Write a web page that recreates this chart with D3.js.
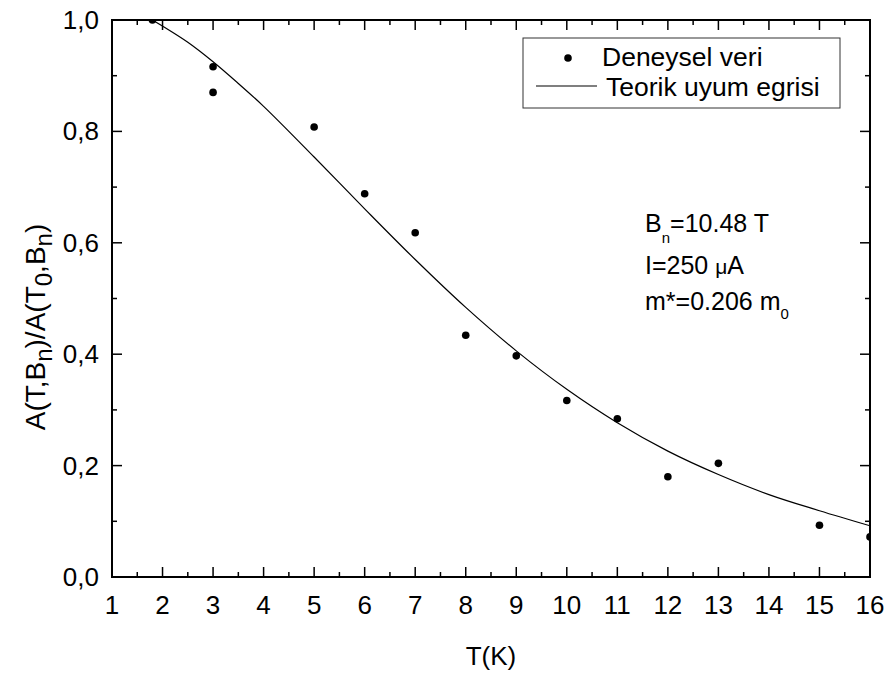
<!DOCTYPE html>
<html>
<head>
<meta charset="utf-8">
<script src="https://cdn.jsdelivr.net/npm/d3@7"></script>
<style>
  body { margin: 0; background: #fff; }
  svg { font-family: "Liberation Sans", Arial, sans-serif; }
</style>
</head>
<body>
<svg id="chart" width="892" height="678"></svg>
<script>
// measured points (Deneysel veri)
var tempData = [1.8, 3, 3, 5, 6, 7, 8, 9, 10, 11, 12, 13, 15, 16]
var ampData = [1.0, 0.916, 0.870, 0.808, 0.688, 0.618, 0.434, 0.397, 0.317, 0.284, 0.180, 0.204, 0.093, 0.072]

// fitted curve (Teorik uyum egrisi)
var tempFit = [1.8, 2.5, 3, 3.5, 4, 5, 6, 7, 8, 9, 10, 11, 12, 13, 14, 15, 16]
var ampFit = [1.0, 0.960, 0.925, 0.886, 0.845, 0.754, 0.661, 0.570, 0.484, 0.406, 0.337, 0.277, 0.226, 0.184, 0.148, 0.119, 0.092]

var xTicks = [1, 2, 3, 4, 5, 6, 7, 8, 9, 10, 11, 12, 13, 14, 15, 16]
var yTicks = [0, 0.2, 0.4, 0.6, 0.8, 1.0]

var margin = {top: 20, right: 22, bottom: 101, left: 112}
var width = 892 - margin.left - margin.right
var height = 678 - margin.top - margin.bottom

var svg = d3.select("#chart")
var g = svg.append("g").attr("transform", "translate(" + margin.left + "," + margin.top + ")")

var x = d3.scaleLinear().domain([1, 16]).range([0, width])
var y = d3.scaleLinear().domain([0, 1]).range([height, 0])

var comma = d3.formatLocale({decimal: ",", thousands: ".", grouping: [3], currency: ["", ""]}).format(".1f")

g.append("clipPath").attr("id", "plotclip")
  .append("rect").attr("width", width).attr("height", height)

// minor ticks
var xMinor = d3.range(1.5, 16, 1)
var yMinor = d3.range(0.1, 1, 0.2)

function tickSet(sel, vals, len, horiz, flip) {
  sel.selectAll(null).data(vals).enter().append("line")
    .attr("x1", function(d) { return horiz ? x(d) : (flip ? width : 0) })
    .attr("x2", function(d) { return horiz ? x(d) : (flip ? width - len : len) })
    .attr("y1", function(d) { return horiz ? (flip ? 0 : height) : y(d) })
    .attr("y2", function(d) { return horiz ? (flip ? len : height - len) : y(d) })
    .attr("stroke", "#000").attr("stroke-width", 1.5)
}

var ticks = g.append("g")
tickSet(ticks, xTicks, 10, true, false)
tickSet(ticks, xMinor, 5, true, false)
tickSet(ticks, xTicks, 10, true, true)
tickSet(ticks, xMinor, 5, true, true)
tickSet(ticks, yTicks, 10, false, false)
tickSet(ticks, yMinor, 5, false, false)
tickSet(ticks, yTicks, 10, false, true)
tickSet(ticks, yMinor, 5, false, true)

// frame
g.append("rect").attr("width", width).attr("height", height)
  .attr("fill", "none").attr("stroke", "#000").attr("stroke-width", 2)

// tick labels
g.append("g").selectAll("text").data(xTicks).enter().append("text")
  .attr("x", function(d) { return x(d) })
  .attr("y", height + 37)
  .attr("text-anchor", "middle")
  .attr("font-size", 26)
  .text(function(d) { return d })

g.append("g").selectAll("text").data(yTicks).enter().append("text")
  .attr("x", -13)
  .attr("y", function(d) { return y(d) + 9 })
  .attr("text-anchor", "end")
  .attr("font-size", 26)
  .text(function(d) { return comma(d) })

// fitted curve
var line = d3.line()
  .x(function(d) { return x(d[0]) })
  .y(function(d) { return y(d[1]) })
  .curve(d3.curveCatmullRom.alpha(0.5))

g.append("path")
  .datum(d3.zip(tempFit, ampFit))
  .attr("clip-path", "url(#plotclip)")
  .attr("fill", "none")
  .attr("stroke", "#000")
  .attr("stroke-width", 1.2)
  .attr("d", line)

// data points
g.append("g").attr("clip-path", "url(#plotclip)")
  .selectAll("circle").data(d3.zip(tempData, ampData)).enter().append("circle")
  .attr("cx", function(d) { return x(d[0]) })
  .attr("cy", function(d) { return y(d[1]) })
  .attr("r", 3.8)
  .attr("fill", "#000")

// legend
var lg = svg.append("g")
lg.append("rect").attr("x", 523).attr("y", 38).attr("width", 317).attr("height", 70)
  .attr("fill", "#fff").attr("stroke", "#333").attr("stroke-width", 1)
lg.append("circle").attr("cx", 568).attr("cy", 58).attr("r", 3.8).attr("fill", "#000")
lg.append("text").attr("x", 602).attr("y", 66).attr("font-size", 26.5).text("Deneysel veri")
lg.append("line").attr("x1", 536).attr("x2", 597).attr("y1", 86).attr("y2", 86)
  .attr("stroke", "#000").attr("stroke-width", 1.2)
lg.append("text").attr("x", 606).attr("y", 96).attr("font-size", 26.5).text("Teorik uyum egrisi")

// annotation
var ann = svg.append("g").attr("font-size", 25)
var t1 = ann.append("text").attr("x", 645).attr("y", 232)
t1.append("tspan").text("B")
t1.append("tspan").attr("dy", 11).attr("font-size", 15).text("n")
t1.append("tspan").attr("dy", -11).text("=10.48 T")
var t2 = ann.append("text").attr("x", 645).attr("y", 274)
t2.append("tspan").text("I=250 ")
t2.append("tspan").attr("font-size", 21).text("μ")
t2.append("tspan").text("A")
var t3 = ann.append("text").attr("x", 645).attr("y", 310)
t3.append("tspan").text("m*=0.206 m")
t3.append("tspan").attr("dy", 9).attr("font-size", 15).text("0")

// axis titles
svg.append("text")
  .attr("x", margin.left + width / 2)
  .attr("y", 665)
  .attr("text-anchor", "middle")
  .attr("font-size", 26)
  .text("T(K)")

var yl = svg.append("text")
  .attr("transform", "translate(45,327) rotate(-90)")
  .attr("text-anchor", "middle")
  .attr("font-size", 28)
yl.append("tspan").text("A(T,B")
yl.append("tspan").attr("dy", 7).attr("font-size", 24).text("n")
yl.append("tspan").attr("dy", -7).text(")/A(T")
yl.append("tspan").attr("dy", 7).attr("font-size", 24).text("0")
yl.append("tspan").attr("dy", -7).text(",B")
yl.append("tspan").attr("dy", 7).attr("font-size", 24).text("n")
yl.append("tspan").attr("dy", -7).text(")")
</script>
</body>
</html>
